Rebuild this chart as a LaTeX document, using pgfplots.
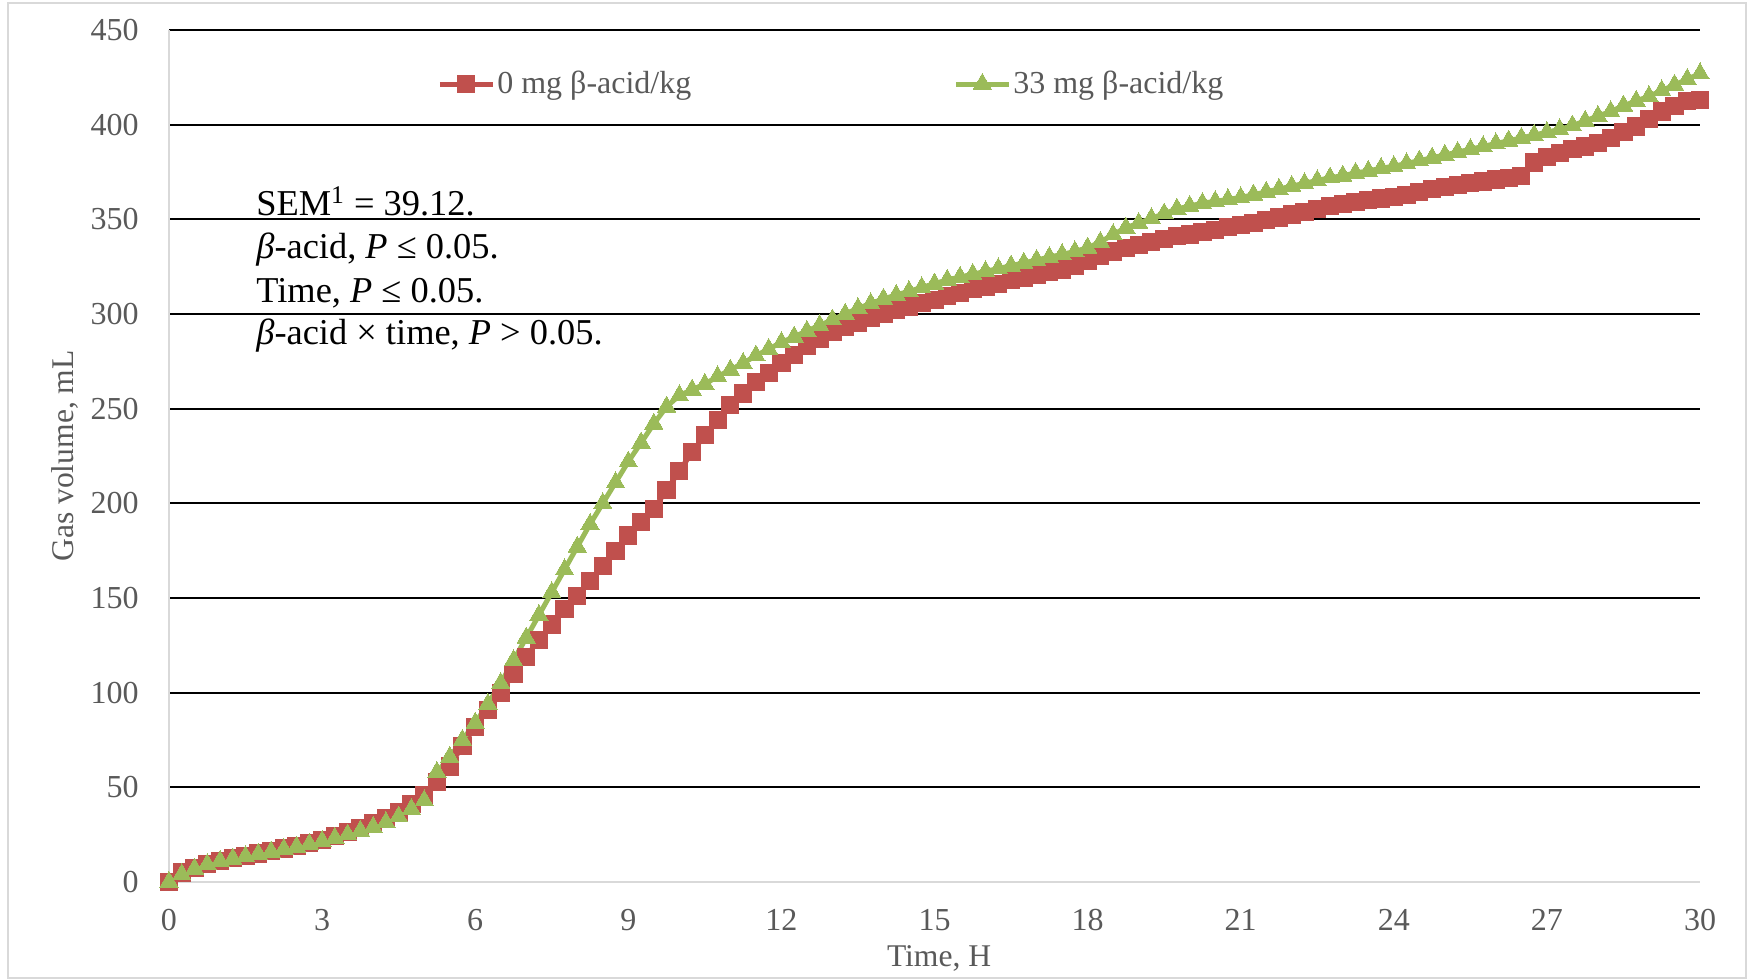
\documentclass[border=0pt]{standalone}
\usepackage{fontspec}
\setmainfont{Liberation Serif}
\usepackage{pgfplots}
\pgfplotsset{compat=1.18}
\usepackage{pgfplotstable}
\definecolor{redS}{HTML}{C0504D}
\definecolor{greenS}{HTML}{9BBB59}
\definecolor{tickgray}{HTML}{595959}
\definecolor{axgray}{HTML}{D9D9D9}

\pgfplotstableread{
t a b
0 0 0
0.25 5 4
0.5 7.5 7
0.75 9.5 9.3
1 11 11
1.25 12.5 12.3
1.5 13.7 13.5
1.75 15 14.8
2 16.3 16
2.25 17.7 17.3
2.5 19 18.6
2.75 20.5 20
3 22.3 21.5
3.25 24.3 23.2
3.5 26.3 25
3.75 28.5 27
4 31 29
4.25 33.7 31.5
4.5 37 34.5
4.75 41 38.5
5 46 43
5.25 53 58
5.5 61 66
5.75 72 75
6 82 84
6.25 91 94
6.5 100 105
6.75 110 117
7 119 129
7.25 128 141
7.5 136 153
7.75 144 165
8 151 177
8.25 159 189
8.5 167 200
8.75 175 211
9 183 222
9.25 190 232
9.5 197 242
9.75 207 251
10 217 257
10.25 227 260
10.5 236 263
10.75 244 267
11 252 270.5
11.25 258 274
11.5 264 278
11.75 269 281.5
12 274 285
12.25 278.5 288
12.5 283 291
12.75 287 294
13 290.5 297
13.25 293 300
13.5 295.5 303
13.75 298 305.5
14 300 308
14.25 302 310
14.5 304 312
14.75 306 314
15 307.5 316
15.25 309.5 318
15.5 311 319.5
15.75 313 321
16 314.5 322.5
16.25 316 324
16.5 318 325.5
16.75 319 327
17 320.5 328.5
17.25 322 330
17.5 323.5 331.5
17.75 325.5 333
18 328 335
18.25 330.5 338
18.5 333 342
18.75 335 345.5
19 336.5 348
19.25 338 350.5
19.5 339.5 353
19.75 341 355.5
20 342 357
20.25 343.5 358.5
20.5 344.5 359.5
20.75 346 360.5
21 347 361.5
21.25 348 363
21.5 349.5 364.5
21.75 351 366
22 352.5 367.5
22.25 354 369
22.5 355.5 370.5
22.75 357 372
23 358 373
23.25 359 374.5
23.5 360 375.5
23.75 361 377
24 362 378
24.25 363 379.5
24.5 364.5 381
24.75 366 382.5
25 367 384
25.25 368 385.5
25.5 369 387
25.75 370 388.5
26 371 390
26.25 372 391.5
26.5 373 393
26.75 380 394.5
27 383 396
27.25 385 397.5
27.5 387 399.5
27.75 388.5 402
28 390.5 404.5
28.25 393 407
28.5 396 410
28.75 399 412.5
29 403 415
29.25 407 418
29.5 410 421
29.75 412.5 424
30 413 427
}\gasdata

\begin{document}
\begin{tikzpicture}
\useasboundingbox (-84.5pt,-48.5pt) rectangle (789pt,441pt);
\draw[axgray, line width=1pt] (-80.5pt,-48pt) rectangle (788.5pt,439.5pt);
\begin{axis}[
  at={(0,0)}, anchor=south west,
  scale only axis, width=765.5pt, height=426pt,
  xmin=0, xmax=30, ymin=0, ymax=450,
  xtick={0,3,...,30},
  ytick={50,100,...,450},
  extra y ticks={0}, extra y tick style={grid=none},
  ymajorgrids, grid style={black, line width=1.1pt},
  major tick length=0pt,
  axis x line*=bottom, axis y line*=left,
  axis line style={axgray, line width=1.2pt},
  clip=false,
  /pgf/number format/assume math mode=true,
  tick label style={font=\fontsize{16}{18}\selectfont, text=tickgray},
  yticklabel style={anchor=east, inner sep=0pt, xshift=-15pt},
  xticklabel style={anchor=north, inner sep=0pt, yshift=-13.5pt},
  xlabel={Time, H}, ylabel={Gas volume, mL},
  label style={font=\fontsize{15.8}{18}\selectfont, text=tickgray},
  xlabel style={at={(axis description cs:0.503,-0.0892)}, anchor=center},
  ylabel style={at={(axis description cs:-0.0679,0.5)}, anchor=center},
  legend columns=2,
  legend style={draw=none, fill=none, at={(axis description cs:0.175,0.9366)}, anchor=west,
    inner sep=0pt, font=\fontsize{16}{18}\selectfont, text=tickgray,
    nodes={inner sep=1pt},
    /tikz/every even column/.append style={column sep=130pt}},
  legend image code/.code={\draw[mark repeat=2,mark phase=2] plot coordinates {(0pt,0pt)(13.25pt,0pt)(26.5pt,0pt)};},
]
\addplot[redS, line width=2.5pt, mark=square*, mark size=4.3pt, mark options={solid, line width=0pt}] table[x=t,y=a]{\gasdata};
\addplot[greenS, line width=2.5pt, mark=triangle*, mark size=5.3pt, mark options={solid, line width=0pt}] table[x=t,y=b]{\gasdata};
\legend{0 mg β-acid/kg, 33 mg β-acid/kg}
\end{axis}
\begin{scope}[every node/.style={anchor=base west, inner sep=0pt, font=\fontsize{18.2}{21}\selectfont}]
\node at (43.5pt,333pt) {SEM\textsuperscript{1} = 39.12.};
\node at (43.5pt,311.5pt) {\textit{β}-acid, \textit{P} ≤ 0.05.};
\node at (43.5pt,289.5pt) {Time, \textit{P} ≤ 0.05.};
\node at (43.5pt,268.5pt) {\textit{β}-acid × time, \textit{P} > 0.05.};
\end{scope}
\end{tikzpicture}
\end{document}
